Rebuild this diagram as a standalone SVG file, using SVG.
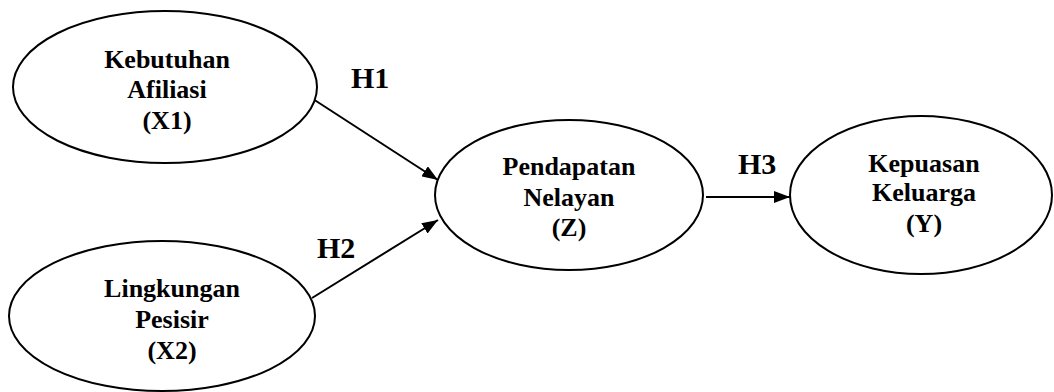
<svg xmlns="http://www.w3.org/2000/svg" width="1054" height="392" viewBox="0 0 1054 392">
<style>
.node{fill:#fff;stroke:#000;stroke-width:2}
.lbl{font-family:"Liberation Serif","Times New Roman",serif;font-weight:bold;font-size:26px;fill:#000;text-anchor:middle}
.h{font-family:"Liberation Serif","Times New Roman",serif;font-weight:bold;font-size:30px;fill:#000}
.edge{stroke:#000;stroke-width:2;fill:none}
</style>
<defs>
<marker id="arr" markerWidth="16" markerHeight="12" refX="16" refY="6" orient="auto" markerUnits="userSpaceOnUse">
<path d="M0,0 L16,6 L0,12 Z" fill="#000"/>
</marker>
</defs>
<rect width="1054" height="392" fill="#fff"/>
<g id="connectors">
<line class="edge" x1="313" y1="99" x2="438" y2="180" marker-end="url(#arr)"/>
<line class="edge" x1="312" y1="298" x2="438" y2="220" marker-end="url(#arr)"/>
<line class="edge" x1="706" y1="197" x2="790" y2="197" marker-end="url(#arr)"/>
<text class="h" x="351" y="88">H1</text>
<text class="h" x="317" y="258">H2</text>
<text class="h" x="738" y="174">H3</text>
</g>
<g id="x1">
<ellipse class="node" cx="165" cy="87" rx="152" ry="76"/>
<text class="lbl" x="167" y="68">Kebutuhan</text>
<text class="lbl" x="167" y="98">Afiliasi</text>
<text class="lbl" x="167" y="129">(X1)</text>
</g>
<g id="x2">
<ellipse class="node" cx="162" cy="316" rx="153" ry="75"/>
<text class="lbl" x="172" y="297">Lingkungan</text>
<text class="lbl" x="172" y="328">Pesisir</text>
<text class="lbl" x="172" y="359">(X2)</text>
</g>
<g id="z">
<ellipse class="node" cx="569" cy="195" rx="134" ry="75"/>
<text class="lbl" x="569" y="175">Pendapatan</text>
<text class="lbl" x="569" y="206">Nelayan</text>
<text class="lbl" x="569" y="236">(Z)</text>
</g>
<g id="y">
<ellipse class="node" cx="921" cy="195" rx="131" ry="79"/>
<text class="lbl" x="924" y="172">Kepuasan</text>
<text class="lbl" x="924" y="201">Keluarga</text>
<text class="lbl" x="924" y="232">(Y)</text>
</g>
</svg>
